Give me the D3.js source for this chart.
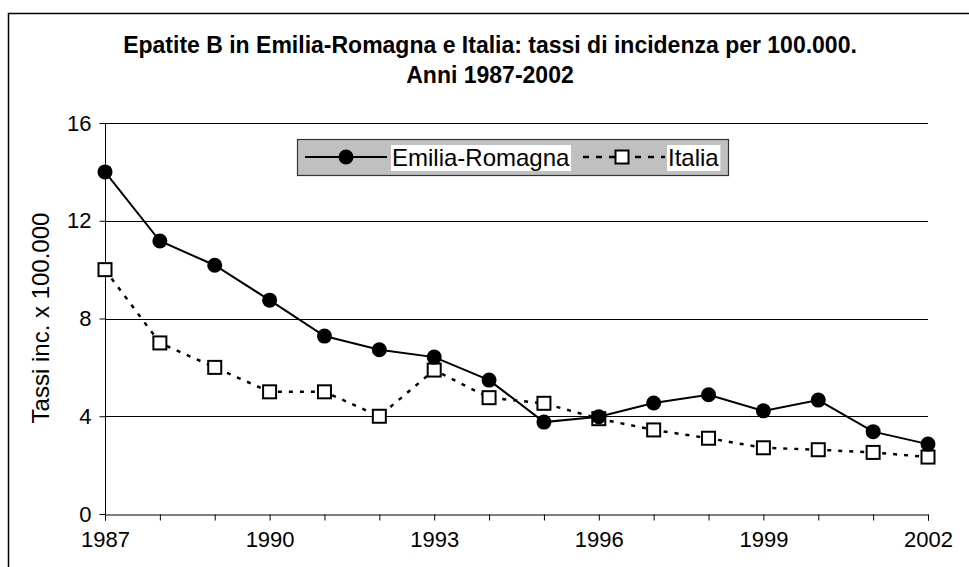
<!DOCTYPE html>
<html><head><meta charset="utf-8">
<script src="https://cdn.jsdelivr.net/npm/d3@7"></script>
<style>
body{margin:0;background:#fff;}
svg{display:block;font-family:"Liberation Sans",Arial,sans-serif;}
</style></head>
<body>
<svg id="chart" width="969" height="567"></svg>
<script>
const years = [1987,1988,1989,1990,1991,1992,1993,1994,1995,1996,1997,1998,1999,2000,2001,2002];
const emiliaRomagna = [14.0,11.17,10.18,8.75,7.28,6.72,6.42,5.48,3.76,3.98,4.54,4.88,4.22,4.66,3.37,2.86];
const italia = [10.0,7.0,6.0,5.0,5.0,4.0,5.89,4.76,4.53,3.9,3.44,3.1,2.71,2.63,2.52,2.33];
const yTicks = [0,4,8,12,16];
const xTickLabels = [1987,1990,1993,1996,1999,2002];
const titleLines = ["Epatite B in Emilia-Romagna e Italia: tassi di incidenza per 100.000.","Anni 1987-2002"];
const yLabel = "Tassi inc. x 100.000";
const seriesNames = ["Emilia-Romagna","Italia"];

const svg = d3.select("#chart");
svg.append("rect").attr("x",8.5).attr("y",13.5).attr("width",1000).attr("height",600)
  .attr("fill","#fff").attr("stroke","#000").attr("stroke-width",1.5);

const x = d3.scaleLinear().domain([1987,2002]).range([105,928]);
const y = d3.scaleLinear().domain([0,16]).range([514,123]);
const g = svg.append("g");

g.selectAll(".grid").data(yTicks.filter(d=>d>0)).enter().append("line")
  .attr("x1",x(1987)).attr("x2",x(2002)).attr("y1",d=>Math.round(y(d))+0.5).attr("y2",d=>Math.round(y(d))+0.5)
  .attr("stroke","#000").attr("stroke-width",1);

const yAxis = d3.axisLeft(y).tickValues(yTicks).tickSize(6).tickPadding(8);
const ya = g.append("g").attr("transform",`translate(${x(1987)+0.5},0)`).call(yAxis);
const xAxis = d3.axisBottom(x).tickValues(years).tickSize(6).tickPadding(11)
  .tickFormat(d=>xTickLabels.includes(d)?String(d):"");
const xa = g.append("g").attr("transform",`translate(0,${Math.round(y(0))+0.5})`).call(xAxis);
[ya,xa].forEach(a=>{
  a.select(".domain").attr("stroke","#000").attr("stroke-width",1);
  a.selectAll(".tick line").attr("stroke","#000");
  a.selectAll("text").attr("font-size",22).attr("fill","#000").attr("font-family","Liberation Sans, Arial, sans-serif");
});
ya.select(".domain").attr("d",`M0,${y(0)}V${y(16)}`);

svg.append("text").attr("transform",`translate(49,318) rotate(-90)`).attr("text-anchor","middle")
  .attr("font-size",24).text(yLabel);

svg.append("g").selectAll("text").data(titleLines).enter().append("text")
  .attr("x",490).attr("y",(d,i)=>53+i*30).attr("text-anchor","middle")
  .attr("font-weight","bold").attr("font-size",23).text(d=>d);

const line = d3.line().x((d,i)=>x(years[i])).y(d=>y(d));
g.append("path").datum(italia).attr("d",line).attr("fill","none").attr("stroke","#000")
  .attr("stroke-width",2.5).attr("stroke-dasharray","4,7");
g.append("path").datum(emiliaRomagna).attr("d",line).attr("fill","none").attr("stroke","#000")
  .attr("stroke-width",2);
g.selectAll(".sq").data(italia).enter().append("rect")
  .attr("x",(d,i)=>x(years[i])-6.5).attr("y",d=>y(d)-6.5).attr("width",13).attr("height",13)
  .attr("fill","#fff").attr("stroke","#000").attr("stroke-width",2);
g.selectAll(".ci").data(emiliaRomagna).enter().append("circle")
  .attr("cx",(d,i)=>x(years[i])).attr("cy",d=>y(d)).attr("r",7.5).attr("fill","#000");

const lg = svg.append("g");
lg.append("rect").attr("x",297.5).attr("y",139.5).attr("width",431).attr("height",36)
  .attr("fill","#c0c0c0").attr("stroke","#333").attr("stroke-width",1.2);
lg.append("line").attr("x1",305).attr("x2",387).attr("y1",157).attr("y2",157).attr("stroke","#000").attr("stroke-width",2);
lg.append("circle").attr("cx",346).attr("cy",157).attr("r",7.5).attr("fill","#000");
const t1 = lg.append("text").attr("x",392).attr("y",166).attr("font-size",24).text(seriesNames[0]);
lg.append("line").attr("x1",583).attr("x2",665).attr("y1",157).attr("y2",157).attr("stroke","#000").attr("stroke-width",2.5).attr("stroke-dasharray","6,7");
lg.append("rect").attr("x",615.5).attr("y",150.5).attr("width",13).attr("height",13).attr("fill","#fff").attr("stroke","#000").attr("stroke-width",2);
const t2 = lg.append("text").attr("x",668).attr("y",166).attr("font-size",24).text(seriesNames[1]);
[t1,t2].forEach(t=>{
  const b = t.node().getBBox();
  lg.insert("rect",()=>t.node()).attr("x",b.x-1).attr("y",145).attr("width",b.width+2).attr("height",26).attr("fill","#fff");
});
</script>
</body></html>
